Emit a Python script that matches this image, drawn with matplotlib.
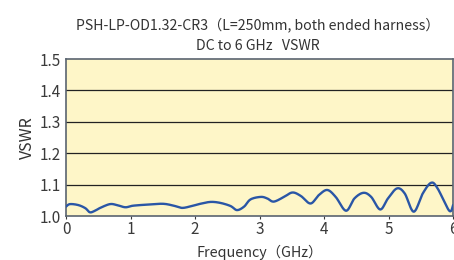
import matplotlib
matplotlib.use("Agg")
import matplotlib.pyplot as plt
import numpy as np

plt.rcParams['font.family'] = ['Noto Sans CJK JP', 'DejaVu Sans']

freq = [0.0, 0.06, 0.19, 0.30, 0.37, 0.45, 0.53, 0.68, 0.79, 0.92, 1.04, 1.30, 1.51,
        1.67, 1.80, 1.95, 2.08, 2.24, 2.39, 2.55, 2.65, 2.76, 2.86, 3.02, 3.12, 3.22,
        3.38, 3.51, 3.64, 3.79, 3.92, 4.05, 4.18, 4.34, 4.47, 4.61, 4.73, 4.87, 4.99,
        5.13, 5.25, 5.39, 5.53, 5.66, 5.76, 5.94, 6.0]
vswr = [1.030, 1.038, 1.035, 1.025, 1.012, 1.017, 1.026, 1.038, 1.035, 1.028, 1.033, 1.037, 1.039,
        1.033, 1.026, 1.032, 1.039, 1.045, 1.042, 1.032, 1.019, 1.030, 1.053, 1.061, 1.056, 1.046,
        1.061, 1.075, 1.064, 1.040, 1.067, 1.083, 1.061, 1.017, 1.056, 1.074, 1.061, 1.021, 1.056,
        1.088, 1.072, 1.014, 1.072, 1.106, 1.088, 1.017, 1.035]

xticks = [0, 1, 2, 3, 4, 5, 6]
yticks = [1.0, 1.1, 1.2, 1.3, 1.4, 1.5]
title_lines = ["PSH-LP-OD1.32-CR3（L=250mm, both ended harness）", "DC to 6 GHz   VSWR"]


def smooth(x, y):
    # Catmull-Rom spline through the read points
    x = np.asarray(x); y = np.asarray(y)
    pts = list(zip(x, y))
    P = [pts[0]] + pts + [pts[-1]]
    res_x, res_y = [], []
    for i in range(1, len(P) - 2):
        p0, p1, p2, p3 = [np.array(P[j]) for j in (i - 1, i, i + 1, i + 2)]
        t = np.linspace(0, 1, 20, endpoint=False)[:, None]
        c = 0.5 * ((2 * p1) + (-p0 + p2) * t + (2 * p0 - 5 * p1 + 4 * p2 - p3) * t ** 2
                   + (-p0 + 3 * p1 - 3 * p2 + p3) * t ** 3)
        res_x.extend(c[:, 0]); res_y.extend(c[:, 1])
    res_x.append(x[-1]); res_y.append(y[-1])
    return np.array(res_x), np.array(res_y)


sx, sy = smooth(freq, vswr)

fig = plt.figure(figsize=(4.54, 2.6), dpi=100)
ax = fig.add_axes([0.1454, 0.169, 0.8526, 0.604])
ax.set_facecolor('#FEF6C8')
ax.plot(sx, sy, color='#2A56A6', lw=1.7, solid_capstyle='round', zorder=3)
ax.set_xlim(0, 6)
ax.set_ylim(1.0, 1.5)
ax.set_xticks(xticks)
ax.set_yticks(yticks)
ax.set_xticklabels([str(t) for t in xticks])
ax.set_yticklabels([f"{t:.1f}" for t in yticks])
for yv in yticks[1:-1]:
    ax.axhline(yv, color='#222222', lw=0.9, zorder=2)
for s in ax.spines.values():
    s.set_color('#5A6470')
    s.set_linewidth(1.2)
ax.tick_params(axis='both', labelsize=11, colors='#3a3a3a', length=2.5, width=0.8, pad=1)
ax.tick_params(axis='y', length=0, pad=4)
ax.set_xlabel("Frequency（GHz）", fontsize=10.3, color='#333333', labelpad=5)
ax.set_ylabel("VSWR", fontsize=11.5, color='#333333', labelpad=2)
fig.text(0.568, 0.904, title_lines[0], ha='center', va='center', fontsize=10.2, color='#333333')
fig.text(0.568, 0.823, title_lines[1], ha='center', va='center', fontsize=10.2, color='#333333')
fig.savefig("out.png", dpi=100, facecolor='white')
